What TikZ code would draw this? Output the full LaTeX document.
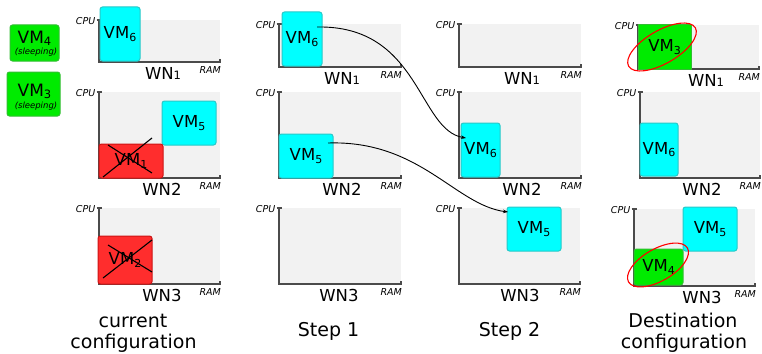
\documentclass[tikz,border=0pt]{standalone}
\usepackage{fontspec}
\setmainfont{DejaVu Sans}
\usetikzlibrary{arrows.meta,shapes.geometric}

\definecolor{vmcyan}{RGB}{0,255,255}
\definecolor{vmcyanedge}{RGB}{40,200,200}
\definecolor{vmred}{RGB}{255,45,45}
\definecolor{vmrededge}{RGB}{205,20,20}
\definecolor{vmgreen}{RGB}{0,235,0}
\definecolor{vmgreenedge}{RGB}{50,190,50}
\definecolor{panelbg}{RGB}{242,242,242}
\definecolor{axisgray}{RGB}{75,75,75}

\newcommand\fs[1]{\fontsize{#1}{#1}\selectfont}
\newcommand\vmsub[1]{\raisebox{-2.6pt}{\fs{11}#1}}
\newcommand\legsub[1]{\raisebox{-1.8pt}{\fs{11.5}#1}}
\newcommand\wnsub[1]{{\fs{11.5}#1}}

% one worker node: name, axis x, top y, axis y, end x, label x, label
\newcommand\wnpanel[7]{%
  \fill[panelbg] (#2,#3) rectangle (#5,#4);
  \draw[axisline] (#2-2.5,#3) -- (#2+2.5,#3);
  \draw[axisline] (#2,#3) -- (#2,#4) -- (#5,#4);
  \draw[axisline] (#5,#4-3) -- (#5,#4+0.7);
  \node[cpulabel] (#1cpu) at (#2-3.5,#3+1) {CPU};
  \node[ramlabel] (#1ram) at (#5+1,#4+4.5) {RAM};
  \node[wnlabel] (#1) at (#6,#4+17) {#7};
}

\tikzset{
  axisline/.style={draw=axisgray, line width=1.4pt},
  cpulabel/.style={font=\fs{9.5}\itshape, anchor=east, inner sep=0pt},
  ramlabel/.style={font=\fs{9.5}\itshape, anchor=north east, inner sep=0pt},
  wnlabel/.style={font=\fs{16.5}, anchor=base, inner sep=0pt},
  caption/.style={font=\fs{19}, anchor=base, inner sep=0pt},
  vm/.style={rounded corners=2.5pt, inner sep=0pt, line width=1pt, font=\fs{16.5}},
  cyanvm/.style={vm, fill=vmcyan, draw=vmcyanedge},
  redvm/.style={vm, fill=vmred, draw=vmrededge},
  greenvm/.style={vm, fill=vmgreen, draw=vmgreenedge},
  crossline/.style={draw=black, line width=1.1pt},
  ring/.style={ellipse, draw=red, line width=1.1pt, inner sep=0pt},
  migr/.style={draw=black, line width=0.9pt, -{Stealth[length=5pt,width=3.6pt]}},
}

\begin{document}
\begin{tikzpicture}[x=1pt, y=-1pt]
\useasboundingbox (0,0) rectangle (762,353);

% sleeping machines
\node[greenvm, minimum width=49, minimum height=36] (vm4l) at (34.5,43) {};
\node[anchor=base, inner sep=0pt, font=\fs{17}] (vm4ltxt) at (34.5,43.3) {VM\legsub{4}};
\node[anchor=base, inner sep=0pt, font=\fs{8.5}\itshape] (vm4lsub) at (36,54.5) {(sleeping)};
\node[greenvm, minimum width=53, minimum height=44] (vm3l) at (33.5,94) {};
\node[anchor=base, inner sep=0pt, font=\fs{17}] (vm3ltxt) at (34.5,96.7) {VM\legsub{3}};
\node[anchor=base, inner sep=0pt, font=\fs{8.5}\itshape] (vm3lsub) at (36,108.5) {(sleeping)};

% current configuration
\wnpanel{wnAa}{99}{20}{62}{220}{163}{WN\wnsub{1}}
\wnpanel{wnAb}{99}{92}{178}{220}{162}{WN2}
\wnpanel{wnAc}{99}{208}{284}{220}{162}{WN3}
\node[cyanvm, minimum width=40, minimum height=54] (vm6a) at (120,34) {VM\vmsub{6}};
\node[cyanvm, minimum width=54, minimum height=44] (vm5a) at (189,123) {VM\vmsub{5}};
\node[redvm, minimum width=64, minimum height=34] (vm1a) at (131,161) {VM\vmsub{1}};
\node[redvm, minimum width=54, minimum height=48] (vm2a) at (125,260) {VM\vmsub{2}};
\draw[crossline] (103,177) -- (152,138);
\draw[crossline] (108,145) -- (152,173);
\draw[crossline] (103,278) -- (152,240);
\draw[crossline] (108,245) -- (152,272);
\node[caption] (capA1) at (133,327) {current};
\node[caption] (capA2) at (133.5,348.5) {configuration};

% step 1
\wnpanel{wnBa}{279}{24}{67}{401}{342}{WN\wnsub{1}}
\wnpanel{wnBb}{279}{92}{178}{401}{342}{WN2}
\wnpanel{wnBc}{279}{208}{284}{401}{339}{WN3}
\node[cyanvm, minimum width=40, minimum height=54] (vm6b) at (302,39) {VM\vmsub{6}};
\node[cyanvm, minimum width=54, minimum height=44] (vm5b) at (306,156) {VM\vmsub{5}};
\node[caption] (capB) at (328.5,336) {Step 1};

% step 2
\wnpanel{wnCa}{459}{24}{67}{581}{522}{WN\wnsub{1}}
\wnpanel{wnCb}{459}{92}{178}{581}{522}{WN2}
\wnpanel{wnCc}{459}{208}{284}{580}{520}{WN3}
\node[cyanvm, minimum width=39, minimum height=54] (vm6c) at (480.5,150) {VM\vmsub{6}};
\node[cyanvm, minimum width=54, minimum height=44] (vm5c) at (534,229) {VM\vmsub{5}};
\node[caption] (capC) at (509.5,336) {Step 2};

% destination configuration
\wnpanel{wnDa}{638}{25}{69}{759}{706}{WN\wnsub{1}}
\wnpanel{wnDb}{640}{92}{178}{760}{702}{WN2}
\wnpanel{wnDc}{634}{209}{286}{755}{702}{WN3}
\node[greenvm, rounded corners=0pt, minimum width=53, minimum height=44] (vm3d) at (664.5,47) {VM\vmsub{3}};
\node[cyanvm, minimum width=38, minimum height=53] (vm6d) at (659,149.5) {VM\vmsub{6}};
\node[cyanvm, minimum width=54, minimum height=44] (vm5d) at (710,229) {VM\vmsub{5}};
\node[greenvm, minimum width=49, minimum height=36] (vm4d) at (658.5,267) {VM\vmsub{4}};
\node[ring, minimum width=77, minimum height=33, rotate=30] (ringA) at (662,47) {};
\node[ring, minimum width=68, minimum height=32, rotate=30] (ringB) at (658,265) {};
\node[caption] (capD1) at (683,327) {Destination};
\node[caption] (capD2) at (684,348.5) {configuration};

% migrations
\coordinate (m6s) at (317,27);
\coordinate (m6e) at (466,138);
\coordinate (m5s) at (328,143);
\coordinate (m5e) at (508,212);
\draw[migr] (m6s) .. controls (420,25) and (418,130) .. (m6e);
\draw[migr] (m5s) .. controls (420,140) and (455,205) .. (m5e);
\end{tikzpicture}
\end{document}
